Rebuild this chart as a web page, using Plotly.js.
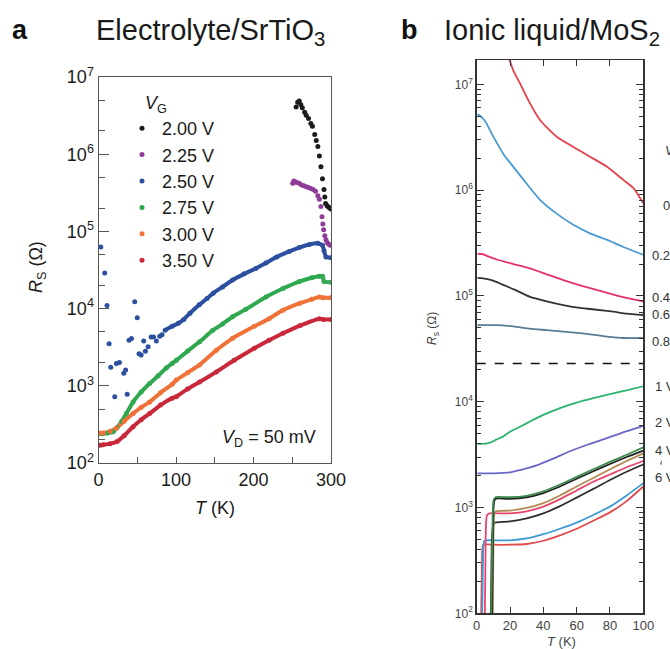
<!DOCTYPE html>
<html>
<head>
<meta charset="utf-8">
<script src="https://cdn.plot.ly/plotly-3.0.1.min.js"></script>
<style>html,body{margin:0;padding:0;background:#fff}#chart{width:670px;height:649px}</style>
</head>
<body>
<div id="chart"></div>
<script>
// ---------- Panel a: Electrolyte/SrTiO3 ----------
const aLegendNames = ["2.00 V", "2.25 V", "2.50 V", "2.75 V", "3.00 V", "3.50 V"];

const aBlackT = [255, 257, 259, 261, 263, 266, 268, 271, 274, 276, 279, 281, 283, 285, 287, 289, 291, 292, 293, 295, 297, 299, 300];
const aBlackR = [4.1e6, 4.7e6, 4.9e6, 4.4e6, 4.0e6, 3.5e6, 3.2e6, 2.9e6, 2.5e6, 2.3e6, 1.8e6, 1.5e6, 1.26e6, 9.5e5, 6.9e5, 4.8e5, 3.5e5, 2.8e5, 2.3e5, 2.15e5, 2.05e5, 2.0e5, 1.95e5];

const aPurpleT = [250.6, 252, 254, 256, 259, 262, 265, 268, 271, 274, 277, 280, 283, 285, 287, 288.4, 289.5, 290.5, 292, 293.5, 295, 297, 299];
const aPurpleR = [4.2e5, 4.5e5, 4.4e5, 4.3e5, 4.2e5, 4.0e5, 3.9e5, 3.8e5, 3.7e5, 3.6e5, 3.5e5, 3.3e5, 2.9e5, 2.6e5, 2.1e5, 1.55e5, 1.25e5, 1.05e5, 8.8e4, 7.8e4, 7.2e4, 6.8e4, 6.6e4];

const aBlueScatterT = [3, 8, 11, 13.7, 15.8, 21, 23, 27, 32.6, 35, 37, 39.4, 42.5, 46.7, 50, 52.3, 55, 58.3, 60.5, 64, 68, 71, 74.7, 79, 82];
const aBlueScatterR = [6.3e4, 2.9e4, 1.1e4, 3.5e3, 1.74e3, 720, 1.95e3, 2.0e3, 1.45e3, 1.6e3, 780, 3.9e3, 4.1e3, 1.23e4, 7.6e3, 2.6e3, 2.5e3, 3.8e3, 2.8e3, 3.2e3, 4.3e3, 4.3e3, 3.8e3, 4.4e3, 4.6e3];
const aBlueLineT = [86, 95, 103, 110, 118, 130, 140, 148, 160, 173, 188, 203, 216, 230, 246, 259, 272, 283, 289, 291, 293.5, 300];
const aBlueLineR = [5250, 5890, 6460, 7240, 8710, 11220, 13490, 15850, 19050, 23440, 28180, 33110, 38900, 46770, 54950, 61660, 67610, 69980, 66070, 56230, 46770, 45710];

const aGreenT = [2, 5, 12, 19, 24, 30, 36, 44.6, 55, 66, 77, 87.5, 95, 100.4, 115, 130.4, 147.6, 160, 173, 190, 216, 238, 259, 275, 285, 289, 291, 300];
const aGreenR = [240, 240, 245, 254, 288, 347, 437, 617, 832, 1072, 1349, 1698, 1950, 2138, 2818, 3715, 5248, 6310, 7852, 9772, 14125, 18197, 22387, 25119, 26303, 26303, 22387, 21878];

const aOrangeT = [2, 6, 15, 23, 33, 44.6, 55, 66, 80, 95, 100.4, 115, 130.4, 152, 173, 201, 220, 238, 260, 275, 285, 290, 300];
const aOrangeR = [245, 245, 257, 282, 347, 437, 525, 617, 813, 1047, 1189, 1479, 1862, 2884, 4121, 5888, 7413, 9550, 11749, 13183, 14125, 13804, 13804];

const aRedT = [2, 6, 15, 24, 33, 44.6, 55, 66, 80, 95, 100.4, 115, 130.4, 152, 175, 201, 220, 238, 260, 285, 290, 300];
const aRedR = [170, 172, 178, 190, 225, 295, 363, 437, 562, 692, 724, 912, 1122, 1514, 2138, 3055, 3890, 4786, 6026, 7413, 7244, 7244];

const aYTickVals = [1e2, 1e3, 1e4, 1e5, 1e6, 1e7];
const aYTickText = ["10<sup>2</sup>", "10<sup>3</sup>", "10<sup>4</sup>", "10<sup>5</sup>", "10<sup>6</sup>", "10<sup>7</sup>"];
const aXTickVals = [0, 100, 200, 300];
const aXTickText = ["0", "100", "200", "300"];

// ---------- Panel b: Ionic liquid/MoS2 ----------
const bV0T = [19.5, 22, 26, 32, 38, 48, 58, 68, 78, 88, 94, 100];
const bV0R = [1.75e7, 1.35e7, 1.02e7, 6.6e6, 4.6e6, 3.2e6, 2.56e6, 2.07e6, 1.67e6, 1.25e6, 1.05e6, 7.5e5];
const bV02T = [0.5, 1.6, 5, 10, 16, 22, 30, 38, 48, 58, 68, 78, 88, 100];
const bV02R = [5.2e6, 5.1e6, 4.5e6, 3.2e6, 2.2e6, 1.66e6, 1.15e6, 8.1e5, 6.0e5, 4.7e5, 3.9e5, 3.4e5, 2.9e5, 2.45e5];
const bV04T = [0.5, 3, 12, 22, 32, 42, 52, 62, 72, 82, 90, 100];
const bV04R = [2.5e5, 2.49e5, 2.21e5, 2.0e5, 1.82e5, 1.6e5, 1.41e5, 1.26e5, 1.14e5, 1.03e5, 9.6e4, 8.9e4];
const bV06T = [0.5, 3, 9, 16, 23, 32, 42, 52, 62, 72, 82, 90, 100];
const bV06R = [1.48e5, 1.47e5, 1.41e5, 1.27e5, 1.14e5, 9.8e4, 8.9e4, 8.2e4, 7.7e4, 7.4e4, 7.1e4, 6.8e4, 6.6e4];
const bV08T = [0.5, 3, 12, 22, 32, 42, 52, 62, 72, 80, 88, 100];
const bV08R = [5.3e4, 5.3e4, 5.3e4, 5.15e4, 4.9e4, 4.75e4, 4.6e4, 4.45e4, 4.26e4, 4.1e4, 4.0e4, 4.0e4];
const bDashT = [0, 100];
const bDashR = [2.3e4, 2.3e4];
const bV1T = [0.5, 4, 8, 12, 16, 20, 26, 32, 40, 50, 60, 70, 80, 90, 100];
const bV1R = [4000, 4000, 4100, 4400, 4700, 5200, 5800, 6500, 7500, 8700, 9800, 10800, 11800, 12800, 14000];
const bV2T = [0.5, 10, 20, 26, 36, 46, 56, 66, 76, 86, 100];
const bV2R = [2100, 2100, 2150, 2260, 2500, 2900, 3400, 3900, 4400, 5000, 5900];
const bC1T = [8.6, 9.0, 9.5, 10, 11, 13, 20, 30, 40, 50, 60, 70, 80, 90, 100];
const bC1R = [80, 200, 700, 1150, 1240, 1260, 1250, 1290, 1420, 1650, 1950, 2300, 2700, 3150, 3700];
const bC2T = [9.2, 9.6, 10, 10.5, 11.5, 13, 20, 30, 40, 50, 60, 70, 80, 90, 100];
const bC2R = [80, 300, 900, 1150, 1210, 1220, 1210, 1250, 1370, 1580, 1870, 2200, 2580, 3000, 3450];
const bC3T = [9.6, 10, 10.5, 11.5, 15, 20, 30, 40, 50, 60, 70, 80, 90, 100];
const bC3R = [80, 400, 850, 920, 930, 935, 990, 1100, 1300, 1580, 1900, 2300, 2750, 3250];
const bC4T = [4.8, 5.2, 5.6, 6.2, 8, 15, 20, 30, 40, 50, 60, 70, 80, 90, 100];
const bC4R = [80, 250, 700, 850, 880, 880, 880, 920, 1020, 1200, 1450, 1750, 2050, 2400, 2750];
const bC5T = [8.4, 8.8, 9.2, 10, 11, 15, 20, 30, 40, 50, 60, 70, 80, 90, 100];
const bC5R = [80, 250, 550, 680, 720, 730, 740, 790, 880, 1030, 1240, 1500, 1820, 2180, 2550];
const bC6T = [3.2, 3.6, 4.0, 4.6, 6, 10, 20, 30, 40, 50, 60, 70, 80, 90, 100];
const bC6R = [80, 200, 420, 485, 490, 490, 490, 510, 560, 630, 720, 850, 1020, 1300, 1700];
const bC7T = [2.6, 3.0, 3.4, 4.0, 6, 10, 20, 30, 40, 50, 60, 70, 80, 90, 100];
const bC7R = [80, 200, 400, 445, 448, 445, 445, 452, 485, 545, 630, 750, 900, 1150, 1580];

const bYTickVals = [1e2, 1e3, 1e4, 1e5, 1e6, 1e7];
const bYTickText = ["10<sup>2</sup>", "10<sup>3</sup>", "10<sup>4</sup>", "10<sup>5</sup>", "10<sup>6</sup>", "10<sup>7</sup>"];
const bRightLabels = ["0", "0.2", "0.4", "0.6", "0.8", "1 V", "2 V", "4 V", "6 V"];

// ---------- build ----------
const W = 670, H = 649;
const px = x => x / W;
const py = y => 1 - y / H;
const FONT = "Liberation Sans, Arial, Helvetica, sans-serif";

const cBlack = "#1b1b1b", cPurple = "#8e3b97", cBlue = "#2c4f9f", cGreen = "#2fa84f", cOrange = "#f07238", cRed = "#c9283b";

function lineA(x, y, c) {
  return {x, y, xaxis: "x", yaxis: "y", type: "scatter", mode: "lines", showlegend: false,
    line: {color: c, width: 4, shape: "spline", smoothing: 0.4}, hoverinfo: "skip"};
}
function dotsA(x, y, c, name, sz) {
  return {x, y, xaxis: "x", yaxis: "y", type: "scatter", mode: "markers", name,
    marker: {color: c, size: sz}, hoverinfo: "skip"};
}
function lineB(x, y, c, w, dash) {
  return {x, y, xaxis: "x2", yaxis: "y2", type: "scatter", mode: "lines", showlegend: false,
    line: {color: c, width: w || 1.8, dash: dash || "solid", shape: "spline", smoothing: 0.6}, hoverinfo: "skip"};
}

const traces = [
  lineA(aBlueLineT, aBlueLineR, cBlue),
  lineA(aGreenT, aGreenR, cGreen),
  lineA(aOrangeT, aOrangeR, cOrange),
  lineA(aRedT, aRedR, cRed),
  dotsA(aBlackT, aBlackR, cBlack, aLegendNames[0], 5),
  dotsA(aPurpleT, aPurpleR, cPurple, aLegendNames[1], 5),
  dotsA(aBlueScatterT.concat(aBlueLineT), aBlueScatterR.concat(aBlueLineR), cBlue, aLegendNames[2], 5),
  dotsA(aGreenT, aGreenR, cGreen, aLegendNames[3], 5),
  dotsA(aOrangeT, aOrangeR, cOrange, aLegendNames[4], 5),
  dotsA(aRedT, aRedR, cRed, aLegendNames[5], 5),

  lineB(bV0T, bV0R, "#e8404a"),
  lineB(bV02T, bV02R, "#4a9bd2"),
  lineB(bV04T, bV04R, "#e8326c"),
  lineB(bV06T, bV06R, "#333333"),
  lineB(bV08T, bV08R, "#587d92"),
  {x: bDashT, y: bDashR, xaxis: "x2", yaxis: "y2", type: "scatter", mode: "lines", showlegend: false,
   line: {color: "#111", width: 1.5, dash: "dash"}, hoverinfo: "skip"},
  lineB(bV1T, bV1R, "#2cb36c"),
  lineB(bV2T, bV2R, "#6b67c6"),
  lineB(bC7T, bC7R, "#e04a4a"),
  lineB(bC6T, bC6R, "#3f9ad8"),
  lineB(bC5T, bC5R, "#2e2e2e"),
  lineB(bC4T, bC4R, "#e8446c"),
  lineB(bC3T, bC3R, "#b38a52"),
  lineB(bC2T, bC2R, "#222222"),
  lineB(bC1T, bC1R, "#3e8c50")
];

const ann = [];
function A(text, x, y, opt) {
  ann.push(Object.assign({text, x: px(x), y: py(y), xref: "paper", yref: "paper", showarrow: false,
    xanchor: "center", yanchor: "middle", font: {family: FONT, size: 18, color: "#1a1a1a"}}, opt || {}));
}
A("<b>a</b>", 20, 30, {font: {family: FONT, size: 27, color: "#111"}});
A("Electrolyte/SrTiO<sub>3</sub>", 211, 32, {font: {family: FONT, size: 29, color: "#1a1a1a"}});
A("<b>b</b>", 409, 30, {font: {family: FONT, size: 27, color: "#111"}});
A("Ionic liquid/MoS<sub>2</sub>", 442, 32, {xanchor: "left", font: {family: FONT, size: 29, color: "#1a1a1a"}});
A("<i>R</i><sub>S</sub> (Ω)", 37, 267, {textangle: -90});
A("<i>T</i> (K)", 215, 508);
A("<i>V</i><sub>D</sub> = 50 mV", 318, 438, {xanchor: "right"});
A("<i>V</i><sub>G</sub>", 143, 104, {xanchor: "left"});
// panel b labels
A("<i>R</i><sub>s</sub> (Ω)", 433, 328, {textangle: -90, font: {family: FONT, size: 12, color: "#444"}});
A("<i>T</i> (K)", 561, 641, {font: {family: FONT, size: 13, color: "#444"}});
const bLabFont = {family: FONT, size: 13, color: "#333"};
A("<i>V</i><sub>G</sub>", 663, 152, {xanchor: "left", font: bLabFont});
const rlx = [661, 650, 650, 650, 650, 653, 653, 653, 653];
const rly = [205, 256, 297, 314, 341, 386, 422, 450, 477];
bRightLabels.forEach((t, i) => A(t, rlx[i], rly[i], {xanchor: "left", font: bLabFont}));
A("~", 661, 462, {xanchor: "center", textangle: 90, font: {family: FONT, size: 9, color: "#333"}});

const layout = {
  width: W, height: H, autosize: false,
  margin: {l: 0, r: 0, t: 0, b: 0},
  paper_bgcolor: "#fff", plot_bgcolor: "#fff",
  font: {family: FONT, color: "#1a1a1a"},
  showlegend: true,
  legend: {x: px(122), y: py(110), xanchor: "left", yanchor: "top", bgcolor: "rgba(0,0,0,0)",
    font: {family: FONT, size: 18, color: "#1a1a1a"}, itemwidth: 30, tracegroupgap: 0},
  xaxis: {domain: [px(98.5), px(331)], range: [0, 300], anchor: "y",
    showline: true, linecolor: "#555", linewidth: 1, mirror: true,
    ticks: "inside", ticklen: 6, tickcolor: "#555", tickvals: aXTickVals, ticktext: aXTickText,
    minor: {tickvals: [50, 150, 250], ticks: "inside", ticklen: 6, tickcolor: "#555"},
    tickfont: {family: FONT, size: 18, color: "#1a1a1a"}, showgrid: false, zeroline: false, fixedrange: true},
  yaxis: {domain: [py(463), py(77)], type: "log", range: [2, 7], anchor: "x",
    showline: true, linecolor: "#555", linewidth: 1, mirror: true,
    ticks: "inside", ticklen: 10, tickcolor: "#555", tickvals: aYTickVals, ticktext: aYTickText,
    minor: {tickvals: [2e2, 5e2, 2e3, 5e3, 2e4, 5e4, 2e5, 5e5, 2e6, 5e6], ticks: "inside", ticklen: 6, tickcolor: "#555"},
    tickfont: {family: FONT, size: 18, color: "#1a1a1a"}, showgrid: false, zeroline: false, fixedrange: true},
  xaxis2: {domain: [px(476.7), px(643.3)], range: [0, 100], anchor: "y2",
    showline: true, linecolor: "#333", linewidth: 1.5, mirror: "allticks",
    ticks: "inside", ticklen: 6, tickcolor: "#333", dtick: 20, tick0: 0,
    tickfont: {family: FONT, size: 13, color: "#444"}, showgrid: false, zeroline: false, fixedrange: true},
  yaxis2: {domain: [py(613.3), py(60)], type: "log", range: [2, 7.23], anchor: "x2",
    showline: true, linecolor: "#333", linewidth: 1.5, mirror: "allticks",
    ticks: "inside", ticklen: 7, tickcolor: "#333", tickvals: bYTickVals, ticktext: bYTickText,
    minor: {dtick: "D1", ticks: "inside", ticklen: 4, tickcolor: "#333"},
    tickfont: {family: FONT, size: 12, color: "#444"}, showgrid: false, zeroline: false, fixedrange: true},
  annotations: ann
};

Plotly.newPlot("chart", traces, layout, {displayModeBar: false, staticPlot: true});
</script>
</body>
</html>
